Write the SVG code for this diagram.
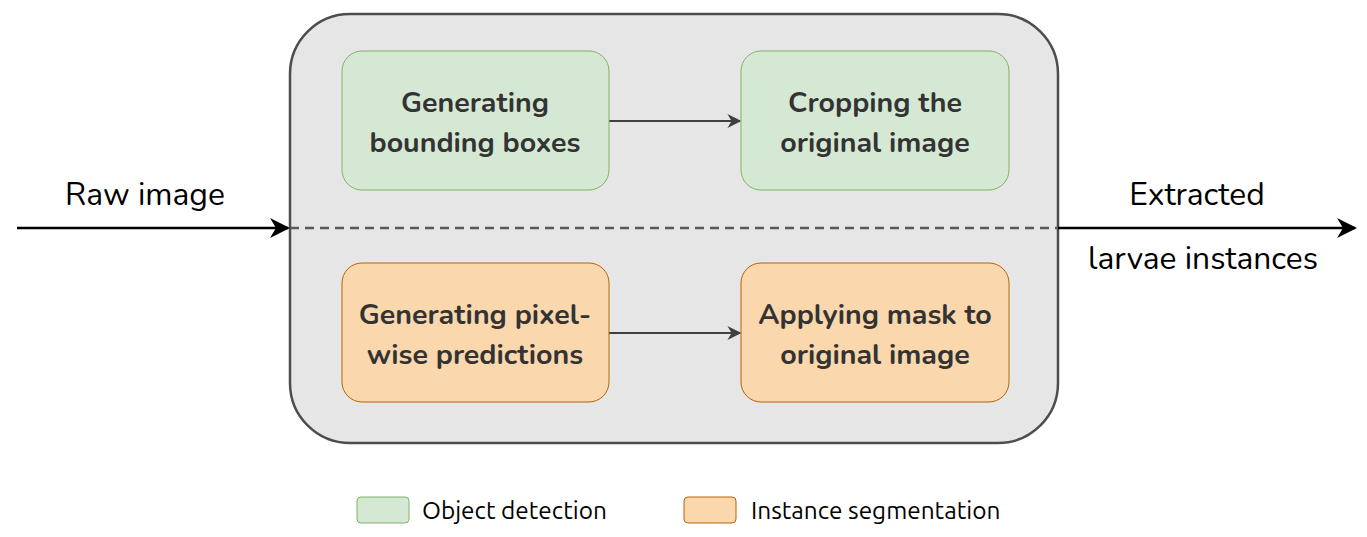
<svg xmlns="http://www.w3.org/2000/svg" width="1367" height="537" viewBox="0 0 1367 537">
<defs>
<style>
.node text{font-family:"Nunito","Lato","Open Sans",sans-serif;font-weight:bold;font-size:28.6px;fill:#333;text-anchor:middle}
.g rect{fill:#d5e8d4;stroke:#82b366;stroke-width:1}
.o rect{fill:#fad7ac;stroke:#b46504;stroke-width:1}
.lbl{font-family:"Nunito","Lato","Open Sans",sans-serif;font-size:31.8px;fill:#000;text-anchor:middle}
.leg{font-family:"Ubuntu","Open Sans","DejaVu Sans",sans-serif;font-size:24.4px;fill:#000}
</style>
<marker id="abig" viewBox="0 0 10 10" refX="9" refY="5" markerWidth="20" markerHeight="20" markerUnits="userSpaceOnUse" orient="auto"><path d="M0,0 L10,5 L0,10 L3,5 Z" fill="#000"/></marker>
<marker id="ag" viewBox="0 0 10 10" refX="9" refY="5" markerWidth="14" markerHeight="14" markerUnits="userSpaceOnUse" orient="auto"><path d="M0,0 L10,5 L0,10 L3,5 Z" fill="#404040"/></marker>
</defs>
<rect x="0" y="0" width="1367" height="537" fill="#fff"/>
<g id="container">
<rect x="290" y="14" width="768" height="429" rx="60" ry="60" fill="#e6e6e6" stroke="#4d4d4d" stroke-width="2.5"/>
</g>
<g id="connectors">
<line x1="290" y1="228" x2="1058" y2="228" stroke="#595959" stroke-width="2.5" stroke-dasharray="9,6"/>
<line x1="17" y1="228" x2="288" y2="228" stroke="#000" stroke-width="2.5" marker-end="url(#abig)"/>
<line x1="1058" y1="228" x2="1355" y2="228" stroke="#000" stroke-width="2.5" marker-end="url(#abig)"/>
<line x1="609" y1="121" x2="740" y2="121" stroke="#404040" stroke-width="2" marker-end="url(#ag)"/>
<line x1="609" y1="333" x2="740" y2="333" stroke="#404040" stroke-width="2" marker-end="url(#ag)"/>
</g>
<g id="n1" class="node g"><rect x="342" y="51" width="267" height="139" rx="20"/><text x="475" y="112">Generating</text><text x="475" y="152">bounding boxes</text></g>
<g id="n2" class="node g"><rect x="741" y="51" width="268" height="139" rx="20"/><text x="875" y="112">Cropping the</text><text x="875" y="152">original image</text></g>
<g id="n3" class="node o"><rect x="342" y="263" width="267" height="139" rx="20"/><text x="475" y="324">Generating pixel-</text><text x="475" y="364">wise predictions</text></g>
<g id="n4" class="node o"><rect x="741" y="263" width="268" height="139" rx="20"/><text x="875" y="324">Applying mask to</text><text x="875" y="364">original image</text></g>
<g id="labels">
<text class="lbl" x="145" y="205">Raw image</text>
<text class="lbl" x="1197" y="205">Extracted</text>
<text class="lbl" x="1203" y="269">larvae instances</text>
</g>
<g id="legend">
<rect x="357" y="497" width="52" height="26" rx="4" fill="#d5e8d4" stroke="#82b366"/>
<text class="leg" x="422" y="519">Object detection</text>
<rect x="684" y="497" width="52" height="26" rx="4" fill="#fad7ac" stroke="#b46504"/>
<text class="leg" x="751" y="519">Instance segmentation</text>
</g>
</svg>
